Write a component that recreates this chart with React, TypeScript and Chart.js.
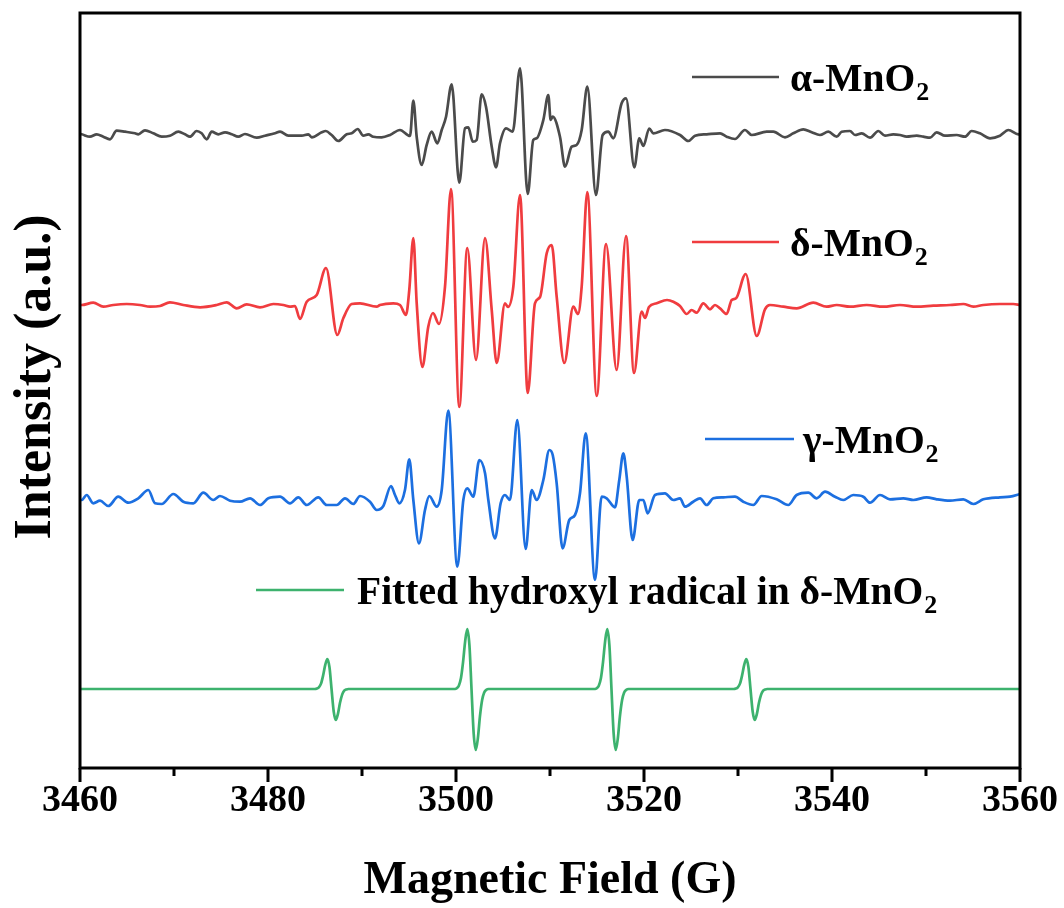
import React, { useEffect, useRef } from "react";
import { Chart, registerables } from "chart.js";

Chart.register(...registerables);

// ---------- data ----------
const X_MIN = 3460;
const X_MAX = 3560;
const MAJOR_TICKS = [3460, 3480, 3500, 3520, 3540, 3560];
const MINOR_TICKS = [3470, 3490, 3510, 3530, 3550];

const SERIES_LABELS = ["α-MnO", "δ-MnO", "γ-MnO", "Fitted hydroxyl radical in δ-MnO"];
const SERIES_SUB = ["2", "2", "2", "2"];
// vertical stacking offsets of the spectra (a.u.)
const SERIES_OFFSETS = [634, 464, 269, 79];

const alphaMnO2: [number, number][] = [
  [3460.0, 0], [3460.18, -0.3], [3461.06, -2.7], [3461.78, -0.3], [3462.48, -2.7], [3463.19, -5.3],
  [3463.9, 3.3], [3464.79, 2.3], [3465.85, 0.7], [3466.2, -0.3], [3466.91, 3.7], [3467.8, 0.7],
  [3468.69, -2.7], [3469.57, -1.7], [3470.46, 2.3], [3471.17, -0.3], [3471.7, -2.7], [3472.41, 3.0],
  [3472.94, 0.7], [3473.48, -5.3], [3474.01, 2.3], [3474.71, -0.3], [3475.43, 1.7], [3476.14, -0.3],
  [3476.84, -2.7], [3477.55, 0], [3478.8, -3.7], [3479.68, -1.7], [3480.74, 0.7], [3481.28, 2.3],
  [3482.16, -1.7], [3483.59, -1.7], [3484.29, -0.3], [3484.65, -3.3], [3485.71, 1.7], [3486.14, 3.0],
  [3486.77, -1.0], [3487.48, -7.0], [3488.37, -0.3], [3488.9, 0.7], [3489.54, 5.0], [3490.14, -1.7],
  [3490.67, -0.3], [3491.2, -2.7], [3492.09, -3.3], [3492.98, -1.0], [3494.04, 4.0], [3495.11, -2.0],
  [3495.46, 33.3], [3495.82, -3.0], [3496.35, -31.0], [3496.88, -11], [3497.41, 2.3], [3498.01, -9.3],
  [3498.48, 4.0], [3498.94, 17.3], [3499.54, 49.7], [3500.35, -48.7], [3500.96, 5.7], [3501.31, 6.7],
  [3501.78, -7.7], [3502.2, -6.0], [3502.73, 39.7], [3503.19, 27.3], [3503.8, -12.7], [3504.26, -33.3],
  [3504.68, -9.3], [3505.32, 5.7], [3506.03, 2.3], [3506.81, 65.7], [3507.63, -60.0], [3508.22, -6.0],
  [3508.58, -4.3], [3509.29, 14.0], [3509.82, 39.0], [3510.07, 14.0], [3510.29, 17.3], [3511.06, -2.7],
  [3511.6, -32.7], [3512.31, -12.7], [3512.83, -11.0], [3513.37, 4.0], [3513.97, 47.3], [3514.89, -61.0],
  [3515.6, -1.0], [3516.2, 2.3], [3516.73, -4.3], [3517.62, 30.7], [3518.09, 35.7], [3518.97, -33.3],
  [3519.5, -4.3], [3519.93, -12], [3520.56, 5.5], [3520.99, 0.7], [3522.23, 4.0], [3523.83, -1.0],
  [3524.71, -7.0], [3525.43, -1.7], [3526.67, -0.3], [3528.09, 0.7], [3528.8, -2.7], [3529.68, -5.0],
  [3530.74, 4.0], [3531.46, -1.0], [3533.05, 2.3], [3533.76, 2.3], [3535.0, -3.3], [3535.88, 0.7],
  [3536.95, 4.7], [3537.84, 1.7], [3538.72, -1.0], [3539.61, 2.3], [3540.5, -2.7], [3541.03, 2.3],
  [3541.91, 3.0], [3542.45, -1.0], [3543.16, 0.7], [3544.04, -3.7], [3544.93, 3.0], [3545.64, -1.7],
  [3546.52, -0.3], [3547.23, -1.0], [3547.94, -2.7], [3549.01, -1.7], [3549.71, -2.7], [3550.43, -3.7],
  [3551.14, 1.7], [3552.02, -1.7], [3553.26, -1.0], [3554.15, -2.7], [3554.86, 3.0], [3555.74, 0.7],
  [3556.81, -4.3], [3557.87, -1.7], [3558.76, 4.0], [3559.82, -0.3], [3560.0, 0],
];

const deltaMnO2: [number, number][] = [
  [3460.0, -1], [3460.18, -1], [3461.41, 1.3], [3462.48, -2.7], [3463.54, -1], [3464.97, 0],
  [3466.38, -1], [3467.45, -2.7], [3468.51, -2], [3469.57, 1.7], [3470.99, -1], [3472.77, -3.3],
  [3474.54, -1], [3475.61, 1.7], [3476.67, -4.3], [3477.73, -0.3], [3479.15, -3.3], [3480.57, 0],
  [3481.63, -1], [3482.34, -2.7], [3482.87, -2], [3483.4, -15], [3484.12, 2.3], [3485.18, 9],
  [3486.17, 36], [3487.37, -31], [3488.01, -14.3], [3488.9, 0], [3489.79, 0.7], [3491.56, -2.7],
  [3491.91, -1], [3493.33, 0.7], [3494.04, -1], [3494.68, -11], [3495.03, 14], [3495.46, 66],
  [3495.82, 0.7], [3496.42, -63], [3497.05, -22.7], [3497.55, -9], [3498.19, -20], [3498.83, 17.3],
  [3499.47, 115], [3500.35, -103], [3501.2, 56], [3502.13, -56], [3503.09, 66], [3503.8, -6],
  [3504.33, -59], [3505.21, 0.7], [3505.53, -3], [3506.1, 17.3], [3506.81, 109], [3507.63, -89],
  [3508.4, 0.7], [3508.94, 7], [3509.65, 50.7], [3510.18, 59], [3510.71, 7.3], [3511.52, -59],
  [3512.48, -2.7], [3512.98, -10], [3513.37, 17.3], [3513.97, 112], [3514.97, -92], [3515.96, 60],
  [3517.09, -66], [3518.09, 68], [3518.94, -69], [3519.75, -7.7], [3520.11, -14], [3520.53, -3],
  [3521.35, 0.7], [3522.45, 4], [3523.12, 2.3], [3523.83, -2], [3524.54, -10], [3525.07, -6],
  [3525.6, -8.7], [3526.31, 0.7], [3527.02, -5.3], [3527.55, -1], [3528.09, -4.3], [3528.79, -10],
  [3529.33, 4], [3529.79, 5.7], [3530.82, 30], [3531.99, -32], [3532.87, -5.3], [3533.4, -1],
  [3534.82, -2.7], [3536.24, -4.3], [3538.01, 1.3], [3539.43, -2.7], [3540.5, -1], [3541.91, -2.7],
  [3543.69, -1], [3545.46, -2.7], [3547.23, -1], [3549.01, -2.7], [3550.78, -1.7], [3552.55, -1],
  [3553.97, 0], [3555.03, -2.7], [3556.1, -1], [3557.87, 0], [3559.29, 0], [3560.0, -1],
];

const gammaMnO2: [number, number][] = [
  [3460.0, -1], [3460.18, -1], [3460.71, 4], [3461.41, -4.3], [3462.13, -1.7], [3463.01, -7],
  [3464.07, 2.3], [3465.14, -3.7], [3466.2, 0.7], [3467.27, 9], [3467.98, -4.3], [3468.69, -5],
  [3469.93, 5], [3470.99, -2.7], [3472.05, -4.3], [3473.12, 6.3], [3474.18, -1], [3474.89, 3],
  [3475.96, -1.7], [3477.02, -2.7], [3478.09, 0.7], [3479.15, -6], [3480.03, 0.7], [3481.28, 2.3],
  [3482.34, -4.3], [3483.22, 1.7], [3484.12, -6], [3485.35, 1.7], [3486.24, -6], [3487.31, -6],
  [3488.19, 0.7], [3489.07, -5], [3489.79, 3], [3490.85, -2.7], [3491.56, -11], [3492.27, -7],
  [3493.09, 13], [3493.51, 4], [3493.97, -4.3], [3494.57, 9], [3495.03, 39.7], [3495.46, -1],
  [3496.06, -44.3], [3496.7, -11], [3497.16, 3], [3497.95, -7.7], [3498.48, 9], [3499.18, 88.3],
  [3500.14, -67.7], [3500.78, -1], [3501.2, 10.7], [3501.84, 2.3], [3502.48, 39], [3503.09, 25.7],
  [3503.44, -1], [3504.15, -39.3], [3504.75, -4.3], [3505.21, 4], [3505.74, -1], [3506.52, 79],
  [3507.41, -50], [3508.05, 9], [3508.58, -1], [3509.29, 19], [3509.93, 49], [3510.29, 44],
  [3510.71, 15.7], [3511.34, -49.3], [3512.05, -21], [3512.66, -16], [3513.19, 5.7], [3513.8, 65.7],
  [3514.79, -81], [3515.49, 2.3], [3516.03, 0.7], [3516.91, -8.3], [3517.37, 19], [3517.8, 45.7],
  [3518.16, 22.3], [3518.79, -41], [3519.5, -1], [3519.93, -1], [3520.39, -14.3], [3521.17, 4],
  [3522.23, 5.7], [3523.12, -1], [3523.83, 0.7], [3524.36, -7.7], [3525.24, -2.7], [3525.96, 0.7],
  [3526.67, -6], [3527.37, 0.7], [3528.44, 1.7], [3529.68, 2.3], [3530.56, -2.7], [3531.63, -6],
  [3532.52, 3], [3534.11, -0.3], [3535.35, -6], [3536.24, 4], [3537.48, 6.3], [3538.37, 0.7],
  [3539.26, 7.3], [3540.32, 2.3], [3541.2, -1], [3542.27, 4], [3543.33, 2.3], [3544.04, -3.7],
  [3545.11, 4], [3546.17, -0.3], [3547.59, 0.7], [3548.65, -1], [3550.07, 1.7], [3551.14, -0.3],
  [3552.55, -1.7], [3553.97, -0.3], [3555.03, -5], [3556.1, -0.3], [3557.87, 1.7], [3558.94, 2.3],
  [3560.0, 5],
];

const fittedOH: [number, number][] = [
  [3460.0, 0], [3485.0, 0],
  [3485.19, 0.4], [3485.41, 1.7], [3485.64, 5.4], [3485.86, 13.4], [3486.09, 24.1], [3486.31, 30],
  [3486.54, 21.8], [3486.76, 0], [3486.99, -22.5], [3487.21, -31], [3487.44, -24.9], [3487.66, -13.8],
  [3487.89, -5.6], [3488.11, -1.7], [3488.34, -0.4], [3488.55, 0],
  [3499.9, 0],
  [3500.08, 0.8], [3500.3, 3.3], [3500.53, 10.9], [3500.75, 26.8], [3500.98, 48.2], [3501.2, 60],
  [3501.43, 43.7], [3501.65, 0], [3501.88, -44.4], [3502.1, -61], [3502.33, -49], [3502.55, -27.2],
  [3502.78, -11.0], [3503.0, -3.4], [3503.23, -0.8], [3503.45, 0],
  [3514.8, 0],
  [3514.97, 0.8], [3515.19, 3.3], [3515.42, 10.9], [3515.64, 26.8], [3515.87, 48.2], [3516.09, 60],
  [3516.32, 43.7], [3516.54, 0], [3516.77, -44.4], [3516.99, -61], [3517.22, -49], [3517.44, -27.2],
  [3517.67, -11.0], [3517.89, -3.4], [3518.12, -0.8], [3518.35, 0],
  [3529.55, 0],
  [3529.76, 0.4], [3529.98, 1.7], [3530.21, 5.4], [3530.43, 13.4], [3530.66, 24.1], [3530.88, 30],
  [3531.11, 21.8], [3531.33, 0], [3531.56, -22.5], [3531.78, -31], [3532.01, -24.9], [3532.23, -13.8],
  [3532.46, -5.6], [3532.68, -1.7], [3532.91, -0.4], [3533.1, 0],
  [3560.0, 0],
];

const SERIES_DATA = [alphaMnO2, deltaMnO2, gammaMnO2, fittedOH];

// ---------- styles ----------
const COLORS = ["#4b4b4b", "#f03c3f", "#1c6fe0", "#3db26e"];
const FONT = "'Liberation Serif', 'Times New Roman', Times, serif";
// legend placement (pixels): line start, line end, line y, text x
const LEGEND_POS = [
  { x1: 692, x2: 779, y: 77, tx: 790 },
  { x1: 692, x2: 779, y: 242, tx: 790 },
  { x1: 705, x2: 794, y: 439, tx: 803 },
  { x1: 256, x2: 344, y: 590, tx: 357 },
];

const decorPlugin = {
  id: "decor",
  afterDraw(chart: any) {
    const { ctx, chartArea } = chart;
    const xs = chart.scales.x;
    const { left, right, top, bottom } = chartArea;
    ctx.save();
    // frame
    ctx.strokeStyle = "#000";
    ctx.lineWidth = 3;
    ctx.beginPath();
    ctx.rect(left, top, right - left, bottom - top);
    ctx.stroke();
    // ticks
    ctx.lineWidth = 3;
    ctx.beginPath();
    for (const v of MAJOR_TICKS) {
      const px = Math.round(xs.getPixelForValue(v));
      ctx.moveTo(px, bottom);
      ctx.lineTo(px, bottom + 14);
    }
    for (const v of MINOR_TICKS) {
      const px = Math.round(xs.getPixelForValue(v));
      ctx.moveTo(px, bottom);
      ctx.lineTo(px, bottom + 8);
    }
    ctx.stroke();

    // legend entries
    SERIES_LABELS.forEach((label, i) => {
      const p = LEGEND_POS[i];
      ctx.strokeStyle = COLORS[i];
      ctx.lineWidth = 2.5;
      ctx.beginPath();
      ctx.moveTo(p.x1, p.y);
      ctx.lineTo(p.x2, p.y);
      ctx.stroke();
      ctx.fillStyle = "#000";
      ctx.textAlign = "left";
      ctx.textBaseline = "alphabetic";
      ctx.font = `bold 39.5px ${FONT}`;
      const base = p.y + 14;
      ctx.fillText(label, p.tx, base);
      const w = ctx.measureText(label).width;
      ctx.font = `bold 26px ${FONT}`;
      ctx.fillText(SERIES_SUB[i], p.tx + w + 1, base + 9);
    });

    // axis titles
    ctx.fillStyle = "#000";
    ctx.font = `bold 46px ${FONT}`;
    ctx.textAlign = "center";
    ctx.textBaseline = "alphabetic";
    ctx.fillText("Magnetic Field (G)", (left + right) / 2, 893);

    ctx.save();
    ctx.translate(50, 377);
    ctx.rotate(-Math.PI / 2);
    ctx.font = `bold 52px ${FONT}`;
    ctx.textAlign = "center";
    ctx.textBaseline = "alphabetic";
    ctx.fillText("Intensity (a.u.)", 0, 0);
    ctx.restore();

    ctx.restore();
  },
};

export default function App() {
  const ref = useRef<HTMLCanvasElement | null>(null);

  useEffect(() => {
    if (!ref.current) return;
    const datasets = SERIES_DATA.map((arr, i) => ({
      label: SERIES_LABELS[i] + SERIES_SUB[i],
      data: arr.map(([g, v]) => ({ x: g, y: v + SERIES_OFFSETS[i] })),
      borderColor: COLORS[i],
      backgroundColor: COLORS[i],
      borderWidth: 2.7,
      pointRadius: 0,
      fill: false,
      cubicInterpolationMode: "monotone",
      borderJoinStyle: "round",
      borderCapStyle: "round",
    }));

    const chart = new Chart(ref.current, {
      type: "line",
      data: { datasets },
      options: {
        responsive: false,
        animation: false,
        events: [],
        layout: { padding: { left: 80, right: 44, top: 13, bottom: 0 } },
        plugins: { legend: { display: false }, tooltip: { enabled: false }, title: { display: false } },
        scales: {
          x: {
            type: "linear",
            min: X_MIN,
            max: X_MAX,
            afterBuildTicks: (s: any) => {
              s.ticks = MAJOR_TICKS.map((v) => ({ value: v }));
            },
            afterFit: (s: any) => {
              s.height = 140;
              s.paddingLeft = 0;
              s.paddingRight = 0;
            },
            grid: { display: false, drawTicks: false },
            border: { display: false },
            ticks: {
              autoSkip: false,
              maxRotation: 0,
              padding: 14,
              color: "#000",
              font: { family: FONT, size: 38, weight: "bold", lineHeight: 1 },
              callback: (v: any) => String(v),
            },
          },
          y: { display: false, min: 0, max: 755 },
        },
      } as any,
      plugins: [decorPlugin],
    });
    return () => chart.destroy();
  }, []);

  return (
    <div style={{ position: "fixed", left: 0, top: 0, width: 1064, height: 908, background: "#fff" }}>
      <canvas ref={ref} width={1064} height={908} style={{ display: "block" }} />
    </div>
  );
}
